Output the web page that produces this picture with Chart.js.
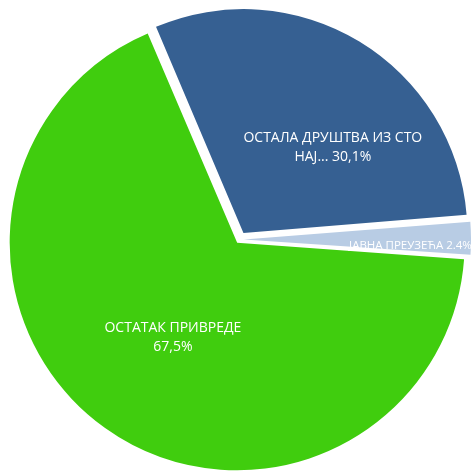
<!DOCTYPE html>
<html><head><meta charset="utf-8">
<script src="https://cdn.jsdelivr.net/npm/chart.js@4"></script>
<style>html,body{margin:0;padding:0;background:#fff;overflow:hidden}#wrap{width:472px;height:471px;position:relative}</style>
</head><body><div id="wrap"><canvas id="c"></canvas></div>
<script>
const categories = ['ОСТАЛА ДРУШТВА ИЗ СТО НАЈ...', 'ЈАВНА ПРЕУЗЕЋА', 'ОСТАТАК ПРИВРЕДЕ'];
const values = [30.1, 2.4, 67.5];
const valueLabels = ['30,1%', '2.4%', '67,5%'];
const labelLines = [
  ['ОСТАЛА ДРУШТВА ИЗ СТО', 'НАЈ... 30,1%'],
  ['ЈАВНА ПРЕУЗЕЋА 2.4%'],
  ['ОСТАТАК ПРИВРЕДЕ', '67,5%']
];
const colors = ['#366092', '#B8CCE4', '#40CD0E'];

// desired apex shift of 8px for every slice (Chart.js shifts offset/4*(1+fix))
const SHIFT = 8;
function offsetFor(v) {
  const c = v / 100 * Math.PI * 2;
  const fix = 1 - Math.sin(Math.min(Math.PI, c));
  return SHIFT * 4 / (1 + fix);
}

const labelPlace = [
  {dAng: 14.7, frac: 0.556, align: 'center', size: 14},
  {dAng: 3.4, frac: 0.455, align: 'left', size: 11.5},
  {dAng: -1.2, frac: 0.492, align: 'center', size: 14}
];

const labelPlugin = {
  id: 'sliceLabels',
  afterDatasetsDraw(chart) {
    const ctx = chart.ctx;
    const meta = chart.getDatasetMeta(0);
    meta.data.forEach((arc, i) => {
      const half = (arc.startAngle + arc.endAngle) / 2;
      const ax = arc.x + Math.cos(half) * SHIFT;
      const ay = arc.y + Math.sin(half) * SHIFT;
      const p = labelPlace[i];
      const a = half + p.dAng * Math.PI / 180;
      const d = arc.outerRadius * p.frac;
      const x = ax + Math.cos(a) * d;
      const y = ay + Math.sin(a) * d;
      ctx.save();
      ctx.fillStyle = '#ffffff';
      ctx.font = p.size + 'px "Open Sans", sans-serif';
      ctx.textAlign = p.align;
      ctx.textBaseline = 'alphabetic';
      const lines = labelLines[i];
      const lh = 19;
      const capHalf = 0.357 * p.size;
      lines.forEach((t, k) => {
        ctx.fillText(t, x, y + capHalf + (k - (lines.length - 1) / 2) * lh);
      });
      ctx.restore();
    });
  }
};

new Chart(document.getElementById('c'), {
  type: 'pie',
  data: {
    labels: categories,
    datasets: [{
      data: values,
      backgroundColor: colors,
      borderWidth: 0,
      offset: values.map(offsetFor),
      hoverOffset: 0
    }]
  },
  options: {
    responsive: true,
    maintainAspectRatio: false,
    animation: false,
    rotation: -23,
    radius: 223.5,
    layout: {padding: {left: 7, right: 0, top: 8, bottom: 0}},
    events: [],
    plugins: {legend: {display: false}, tooltip: {enabled: false}}
  },
  plugins: [labelPlugin]
});
</script></body></html>
